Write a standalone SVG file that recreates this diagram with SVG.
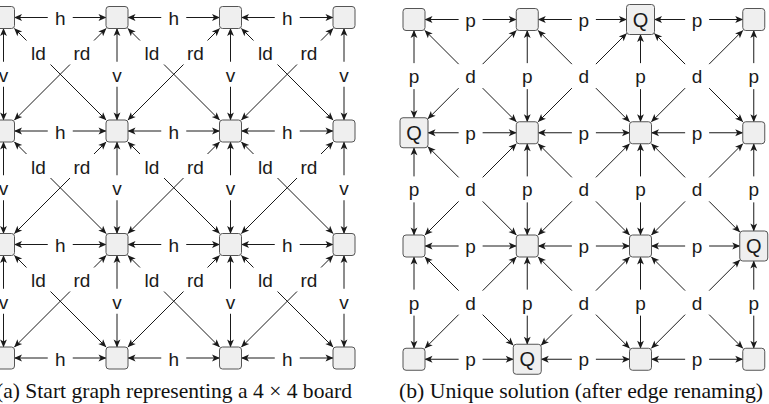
<svg xmlns="http://www.w3.org/2000/svg" width="769" height="404" viewBox="0 0 769 404">
<style>
.e{stroke:#1a1a1a;stroke-width:1;fill:none;marker-end:url(#ah)}
.n{fill:#efefef;stroke:#555;stroke-width:1}
.l{font-family:"Liberation Sans",Arial,sans-serif;font-size:19px;text-anchor:middle;fill:#1a1a1a}
.q{font-family:"Liberation Sans",Arial,sans-serif;font-size:20px;text-anchor:middle;fill:#1a1a1a}
.cap{font-family:"Liberation Serif","Times New Roman",serif;font-size:21.5px;fill:#111}
</style>
<defs>
<marker id="ah" viewBox="-8 -4 9 8" refX="0" refY="0" markerWidth="9" markerHeight="8" markerUnits="userSpaceOnUse" orient="auto"><path d="M0.5,0 L-7.5,-3.4 L-5.5,0 L-7.5,3.4 Z" fill="#1a1a1a"/></marker>
</defs>
<rect width="769" height="404" fill="#fff"/>
<g id="connectors-a">
<g transform="translate(3.5,17.5)"><line class="e" x1="44.25" y1="0" x2="11" y2="0"/><line class="e" x1="69.25" y1="0" x2="102.5" y2="0"/><text class="l" x="56.75" y="7.5">h</text></g>
<g transform="translate(117,17.5)"><line class="e" x1="44.25" y1="0" x2="11" y2="0"/><line class="e" x1="69.25" y1="0" x2="102.5" y2="0"/><text class="l" x="56.75" y="7.5">h</text></g>
<g transform="translate(230.5,17.5)"><line class="e" x1="44.25" y1="0" x2="11" y2="0"/><line class="e" x1="69.25" y1="0" x2="102.5" y2="0"/><text class="l" x="56.75" y="7.5">h</text></g>
<g transform="translate(3.5,131)"><line class="e" x1="44.25" y1="0" x2="11" y2="0"/><line class="e" x1="69.25" y1="0" x2="102.5" y2="0"/><text class="l" x="56.75" y="7.5">h</text></g>
<g transform="translate(117,131)"><line class="e" x1="44.25" y1="0" x2="11" y2="0"/><line class="e" x1="69.25" y1="0" x2="102.5" y2="0"/><text class="l" x="56.75" y="7.5">h</text></g>
<g transform="translate(230.5,131)"><line class="e" x1="44.25" y1="0" x2="11" y2="0"/><line class="e" x1="69.25" y1="0" x2="102.5" y2="0"/><text class="l" x="56.75" y="7.5">h</text></g>
<g transform="translate(3.5,244.5)"><line class="e" x1="44.25" y1="0" x2="11" y2="0"/><line class="e" x1="69.25" y1="0" x2="102.5" y2="0"/><text class="l" x="56.75" y="7.5">h</text></g>
<g transform="translate(117,244.5)"><line class="e" x1="44.25" y1="0" x2="11" y2="0"/><line class="e" x1="69.25" y1="0" x2="102.5" y2="0"/><text class="l" x="56.75" y="7.5">h</text></g>
<g transform="translate(230.5,244.5)"><line class="e" x1="44.25" y1="0" x2="11" y2="0"/><line class="e" x1="69.25" y1="0" x2="102.5" y2="0"/><text class="l" x="56.75" y="7.5">h</text></g>
<g transform="translate(3.5,358)"><line class="e" x1="44.25" y1="0" x2="11" y2="0"/><line class="e" x1="69.25" y1="0" x2="102.5" y2="0"/><text class="l" x="56.75" y="7.5">h</text></g>
<g transform="translate(117,358)"><line class="e" x1="44.25" y1="0" x2="11" y2="0"/><line class="e" x1="69.25" y1="0" x2="102.5" y2="0"/><text class="l" x="56.75" y="7.5">h</text></g>
<g transform="translate(230.5,358)"><line class="e" x1="44.25" y1="0" x2="11" y2="0"/><line class="e" x1="69.25" y1="0" x2="102.5" y2="0"/><text class="l" x="56.75" y="7.5">h</text></g>

<g transform="translate(3.5,17.5)"><line class="e" x1="0" y1="44.25" x2="0" y2="11"/><line class="e" x1="0" y1="69.25" x2="0" y2="102.5"/><text class="l" x="0" y="64.25">v</text></g>
<g transform="translate(3.5,131)"><line class="e" x1="0" y1="44.25" x2="0" y2="11"/><line class="e" x1="0" y1="69.25" x2="0" y2="102.5"/><text class="l" x="0" y="64.25">v</text></g>
<g transform="translate(3.5,244.5)"><line class="e" x1="0" y1="44.25" x2="0" y2="11"/><line class="e" x1="0" y1="69.25" x2="0" y2="102.5"/><text class="l" x="0" y="64.25">v</text></g>
<g transform="translate(117,17.5)"><line class="e" x1="0" y1="44.25" x2="0" y2="11"/><line class="e" x1="0" y1="69.25" x2="0" y2="102.5"/><text class="l" x="0" y="64.25">v</text></g>
<g transform="translate(117,131)"><line class="e" x1="0" y1="44.25" x2="0" y2="11"/><line class="e" x1="0" y1="69.25" x2="0" y2="102.5"/><text class="l" x="0" y="64.25">v</text></g>
<g transform="translate(117,244.5)"><line class="e" x1="0" y1="44.25" x2="0" y2="11"/><line class="e" x1="0" y1="69.25" x2="0" y2="102.5"/><text class="l" x="0" y="64.25">v</text></g>
<g transform="translate(230.5,17.5)"><line class="e" x1="0" y1="44.25" x2="0" y2="11"/><line class="e" x1="0" y1="69.25" x2="0" y2="102.5"/><text class="l" x="0" y="64.25">v</text></g>
<g transform="translate(230.5,131)"><line class="e" x1="0" y1="44.25" x2="0" y2="11"/><line class="e" x1="0" y1="69.25" x2="0" y2="102.5"/><text class="l" x="0" y="64.25">v</text></g>
<g transform="translate(230.5,244.5)"><line class="e" x1="0" y1="44.25" x2="0" y2="11"/><line class="e" x1="0" y1="69.25" x2="0" y2="102.5"/><text class="l" x="0" y="64.25">v</text></g>
<g transform="translate(344,17.5)"><line class="e" x1="0" y1="44.25" x2="0" y2="11"/><line class="e" x1="0" y1="69.25" x2="0" y2="102.5"/><text class="l" x="0" y="64.25">v</text></g>
<g transform="translate(344,131)"><line class="e" x1="0" y1="44.25" x2="0" y2="11"/><line class="e" x1="0" y1="69.25" x2="0" y2="102.5"/><text class="l" x="0" y="64.25">v</text></g>
<g transform="translate(344,244.5)"><line class="e" x1="0" y1="44.25" x2="0" y2="11"/><line class="e" x1="0" y1="69.25" x2="0" y2="102.5"/><text class="l" x="0" y="64.25">v</text></g>

<g transform="translate(3.5,17.5)"><line class="e" x1="23" y1="23" x2="11" y2="11"/><line class="e" x1="47" y1="47" x2="102.5" y2="102.5"/><text class="l" x="35" y="42.5">ld</text><line class="e" x1="90.5" y1="23" x2="102.5" y2="11"/><line class="e" x1="66.5" y1="47" x2="11" y2="102.5"/><text class="l" x="78.5" y="42.5">rd</text></g>
<g transform="translate(117,17.5)"><line class="e" x1="23" y1="23" x2="11" y2="11"/><line class="e" x1="47" y1="47" x2="102.5" y2="102.5"/><text class="l" x="35" y="42.5">ld</text><line class="e" x1="90.5" y1="23" x2="102.5" y2="11"/><line class="e" x1="66.5" y1="47" x2="11" y2="102.5"/><text class="l" x="78.5" y="42.5">rd</text></g>
<g transform="translate(230.5,17.5)"><line class="e" x1="23" y1="23" x2="11" y2="11"/><line class="e" x1="47" y1="47" x2="102.5" y2="102.5"/><text class="l" x="35" y="42.5">ld</text><line class="e" x1="90.5" y1="23" x2="102.5" y2="11"/><line class="e" x1="66.5" y1="47" x2="11" y2="102.5"/><text class="l" x="78.5" y="42.5">rd</text></g>
<g transform="translate(3.5,131)"><line class="e" x1="23" y1="23" x2="11" y2="11"/><line class="e" x1="47" y1="47" x2="102.5" y2="102.5"/><text class="l" x="35" y="42.5">ld</text><line class="e" x1="90.5" y1="23" x2="102.5" y2="11"/><line class="e" x1="66.5" y1="47" x2="11" y2="102.5"/><text class="l" x="78.5" y="42.5">rd</text></g>
<g transform="translate(117,131)"><line class="e" x1="23" y1="23" x2="11" y2="11"/><line class="e" x1="47" y1="47" x2="102.5" y2="102.5"/><text class="l" x="35" y="42.5">ld</text><line class="e" x1="90.5" y1="23" x2="102.5" y2="11"/><line class="e" x1="66.5" y1="47" x2="11" y2="102.5"/><text class="l" x="78.5" y="42.5">rd</text></g>
<g transform="translate(230.5,131)"><line class="e" x1="23" y1="23" x2="11" y2="11"/><line class="e" x1="47" y1="47" x2="102.5" y2="102.5"/><text class="l" x="35" y="42.5">ld</text><line class="e" x1="90.5" y1="23" x2="102.5" y2="11"/><line class="e" x1="66.5" y1="47" x2="11" y2="102.5"/><text class="l" x="78.5" y="42.5">rd</text></g>
<g transform="translate(3.5,244.5)"><line class="e" x1="23" y1="23" x2="11" y2="11"/><line class="e" x1="47" y1="47" x2="102.5" y2="102.5"/><text class="l" x="35" y="42.5">ld</text><line class="e" x1="90.5" y1="23" x2="102.5" y2="11"/><line class="e" x1="66.5" y1="47" x2="11" y2="102.5"/><text class="l" x="78.5" y="42.5">rd</text></g>
<g transform="translate(117,244.5)"><line class="e" x1="23" y1="23" x2="11" y2="11"/><line class="e" x1="47" y1="47" x2="102.5" y2="102.5"/><text class="l" x="35" y="42.5">ld</text><line class="e" x1="90.5" y1="23" x2="102.5" y2="11"/><line class="e" x1="66.5" y1="47" x2="11" y2="102.5"/><text class="l" x="78.5" y="42.5">rd</text></g>
<g transform="translate(230.5,244.5)"><line class="e" x1="23" y1="23" x2="11" y2="11"/><line class="e" x1="47" y1="47" x2="102.5" y2="102.5"/><text class="l" x="35" y="42.5">ld</text><line class="e" x1="90.5" y1="23" x2="102.5" y2="11"/><line class="e" x1="66.5" y1="47" x2="11" y2="102.5"/><text class="l" x="78.5" y="42.5">rd</text></g>
</g>

<g id="connectors-b">
<g transform="translate(414,19.5)"><line class="e" x1="44.625" y1="0" x2="11" y2="0"/><line class="e" x1="68.625" y1="0" x2="102.25" y2="0"/><text class="l" x="56.625" y="7">p</text></g>
<g transform="translate(527.25,19.5)"><line class="e" x1="44.625" y1="0" x2="11" y2="0"/><line class="e" x1="68.625" y1="0" x2="99.25" y2="0"/><text class="l" x="56.625" y="7">p</text></g>
<g transform="translate(640.5,19.5)"><line class="e" x1="44.625" y1="0" x2="14" y2="0"/><line class="e" x1="68.625" y1="0" x2="102.25" y2="0"/><text class="l" x="56.625" y="7">p</text></g>
<g transform="translate(414,132.75)"><line class="e" x1="44.625" y1="0" x2="14" y2="0"/><line class="e" x1="68.625" y1="0" x2="102.25" y2="0"/><text class="l" x="56.625" y="7">p</text></g>
<g transform="translate(527.25,132.75)"><line class="e" x1="44.625" y1="0" x2="11" y2="0"/><line class="e" x1="68.625" y1="0" x2="102.25" y2="0"/><text class="l" x="56.625" y="7">p</text></g>
<g transform="translate(640.5,132.75)"><line class="e" x1="44.625" y1="0" x2="11" y2="0"/><line class="e" x1="68.625" y1="0" x2="102.25" y2="0"/><text class="l" x="56.625" y="7">p</text></g>
<g transform="translate(414,246)"><line class="e" x1="44.625" y1="0" x2="11" y2="0"/><line class="e" x1="68.625" y1="0" x2="102.25" y2="0"/><text class="l" x="56.625" y="7">p</text></g>
<g transform="translate(527.25,246)"><line class="e" x1="44.625" y1="0" x2="11" y2="0"/><line class="e" x1="68.625" y1="0" x2="102.25" y2="0"/><text class="l" x="56.625" y="7">p</text></g>
<g transform="translate(640.5,246)"><line class="e" x1="44.625" y1="0" x2="11" y2="0"/><line class="e" x1="68.625" y1="0" x2="99.25" y2="0"/><text class="l" x="56.625" y="7">p</text></g>
<g transform="translate(414,359.25)"><line class="e" x1="44.625" y1="0" x2="11" y2="0"/><line class="e" x1="68.625" y1="0" x2="99.25" y2="0"/><text class="l" x="56.625" y="7">p</text></g>
<g transform="translate(527.25,359.25)"><line class="e" x1="44.625" y1="0" x2="14" y2="0"/><line class="e" x1="68.625" y1="0" x2="102.25" y2="0"/><text class="l" x="56.625" y="7">p</text></g>
<g transform="translate(640.5,359.25)"><line class="e" x1="44.625" y1="0" x2="11" y2="0"/><line class="e" x1="68.625" y1="0" x2="102.25" y2="0"/><text class="l" x="56.625" y="7">p</text></g>

<g transform="translate(414,19.5)"><line class="e" x1="0" y1="43.625" x2="0" y2="11"/><line class="e" x1="0" y1="69.625" x2="0" y2="98.25"/><text class="l" x="0" y="63.625">p</text></g>
<g transform="translate(414,132.75)"><line class="e" x1="0" y1="43.625" x2="0" y2="15"/><line class="e" x1="0" y1="69.625" x2="0" y2="102.25"/><text class="l" x="0" y="63.625">p</text></g>
<g transform="translate(414,246)"><line class="e" x1="0" y1="43.625" x2="0" y2="11"/><line class="e" x1="0" y1="69.625" x2="0" y2="102.25"/><text class="l" x="0" y="63.625">p</text></g>
<g transform="translate(527.25,19.5)"><line class="e" x1="0" y1="43.625" x2="0" y2="11"/><line class="e" x1="0" y1="69.625" x2="0" y2="102.25"/><text class="l" x="0" y="63.625">p</text></g>
<g transform="translate(527.25,132.75)"><line class="e" x1="0" y1="43.625" x2="0" y2="11"/><line class="e" x1="0" y1="69.625" x2="0" y2="102.25"/><text class="l" x="0" y="63.625">p</text></g>
<g transform="translate(527.25,246)"><line class="e" x1="0" y1="43.625" x2="0" y2="11"/><line class="e" x1="0" y1="69.625" x2="0" y2="98.25"/><text class="l" x="0" y="63.625">p</text></g>
<g transform="translate(640.5,19.5)"><line class="e" x1="0" y1="43.625" x2="0" y2="15"/><line class="e" x1="0" y1="69.625" x2="0" y2="102.25"/><text class="l" x="0" y="63.625">p</text></g>
<g transform="translate(640.5,132.75)"><line class="e" x1="0" y1="43.625" x2="0" y2="11"/><line class="e" x1="0" y1="69.625" x2="0" y2="102.25"/><text class="l" x="0" y="63.625">p</text></g>
<g transform="translate(640.5,246)"><line class="e" x1="0" y1="43.625" x2="0" y2="11"/><line class="e" x1="0" y1="69.625" x2="0" y2="102.25"/><text class="l" x="0" y="63.625">p</text></g>
<g transform="translate(753.75,19.5)"><line class="e" x1="0" y1="43.625" x2="0" y2="11"/><line class="e" x1="0" y1="69.625" x2="0" y2="102.25"/><text class="l" x="0" y="63.625">p</text></g>
<g transform="translate(753.75,132.75)"><line class="e" x1="0" y1="43.625" x2="0" y2="11"/><line class="e" x1="0" y1="69.625" x2="0" y2="98.25"/><text class="l" x="0" y="63.625">p</text></g>
<g transform="translate(753.75,246)"><line class="e" x1="0" y1="43.625" x2="0" y2="15"/><line class="e" x1="0" y1="69.625" x2="0" y2="102.25"/><text class="l" x="0" y="63.625">p</text></g>

<g transform="translate(414,19.5)"><line class="e" x1="44.625" y1="44.625" x2="11" y2="11"/><line class="e" x1="68.625" y1="44.625" x2="102.25" y2="11"/><line class="e" x1="44.625" y1="68.625" x2="14" y2="99.25"/><line class="e" x1="68.625" y1="68.625" x2="102.25" y2="102.25"/><text class="l" x="56.625" y="63.625">d</text></g>
<g transform="translate(527.25,19.5)"><line class="e" x1="44.625" y1="44.625" x2="11" y2="11"/><line class="e" x1="68.625" y1="44.625" x2="99.25" y2="14"/><line class="e" x1="44.625" y1="68.625" x2="11" y2="102.25"/><line class="e" x1="68.625" y1="68.625" x2="102.25" y2="102.25"/><text class="l" x="56.625" y="63.625">d</text></g>
<g transform="translate(640.5,19.5)"><line class="e" x1="44.625" y1="44.625" x2="14" y2="14"/><line class="e" x1="68.625" y1="44.625" x2="102.25" y2="11"/><line class="e" x1="44.625" y1="68.625" x2="11" y2="102.25"/><line class="e" x1="68.625" y1="68.625" x2="102.25" y2="102.25"/><text class="l" x="56.625" y="63.625">d</text></g>
<g transform="translate(414,132.75)"><line class="e" x1="44.625" y1="44.625" x2="14" y2="14"/><line class="e" x1="68.625" y1="44.625" x2="102.25" y2="11"/><line class="e" x1="44.625" y1="68.625" x2="11" y2="102.25"/><line class="e" x1="68.625" y1="68.625" x2="102.25" y2="102.25"/><text class="l" x="56.625" y="63.625">d</text></g>
<g transform="translate(527.25,132.75)"><line class="e" x1="44.625" y1="44.625" x2="11" y2="11"/><line class="e" x1="68.625" y1="44.625" x2="102.25" y2="11"/><line class="e" x1="44.625" y1="68.625" x2="11" y2="102.25"/><line class="e" x1="68.625" y1="68.625" x2="102.25" y2="102.25"/><text class="l" x="56.625" y="63.625">d</text></g>
<g transform="translate(640.5,132.75)"><line class="e" x1="44.625" y1="44.625" x2="11" y2="11"/><line class="e" x1="68.625" y1="44.625" x2="102.25" y2="11"/><line class="e" x1="44.625" y1="68.625" x2="11" y2="102.25"/><line class="e" x1="68.625" y1="68.625" x2="99.25" y2="99.25"/><text class="l" x="56.625" y="63.625">d</text></g>
<g transform="translate(414,246)"><line class="e" x1="44.625" y1="44.625" x2="11" y2="11"/><line class="e" x1="68.625" y1="44.625" x2="102.25" y2="11"/><line class="e" x1="44.625" y1="68.625" x2="11" y2="102.25"/><line class="e" x1="68.625" y1="68.625" x2="99.25" y2="99.25"/><text class="l" x="56.625" y="63.625">d</text></g>
<g transform="translate(527.25,246)"><line class="e" x1="44.625" y1="44.625" x2="11" y2="11"/><line class="e" x1="68.625" y1="44.625" x2="102.25" y2="11"/><line class="e" x1="44.625" y1="68.625" x2="14" y2="99.25"/><line class="e" x1="68.625" y1="68.625" x2="102.25" y2="102.25"/><text class="l" x="56.625" y="63.625">d</text></g>
<g transform="translate(640.5,246)"><line class="e" x1="44.625" y1="44.625" x2="11" y2="11"/><line class="e" x1="68.625" y1="44.625" x2="99.25" y2="14"/><line class="e" x1="44.625" y1="68.625" x2="11" y2="102.25"/><line class="e" x1="68.625" y1="68.625" x2="102.25" y2="102.25"/><text class="l" x="56.625" y="63.625">d</text></g>
</g>

<g id="nodes-a">
<g id="a00"><rect class="n" x="-7.5" y="6.5" width="22" height="22" rx="3"/></g>
<g id="a10"><rect class="n" x="106" y="6.5" width="22" height="22" rx="3"/></g>
<g id="a20"><rect class="n" x="219.5" y="6.5" width="22" height="22" rx="3"/></g>
<g id="a30"><rect class="n" x="333" y="6.5" width="22" height="22" rx="3"/></g>
<g id="a01"><rect class="n" x="-7.5" y="120" width="22" height="22" rx="3"/></g>
<g id="a11"><rect class="n" x="106" y="120" width="22" height="22" rx="3"/></g>
<g id="a21"><rect class="n" x="219.5" y="120" width="22" height="22" rx="3"/></g>
<g id="a31"><rect class="n" x="333" y="120" width="22" height="22" rx="3"/></g>
<g id="a02"><rect class="n" x="-7.5" y="233.5" width="22" height="22" rx="3"/></g>
<g id="a12"><rect class="n" x="106" y="233.5" width="22" height="22" rx="3"/></g>
<g id="a22"><rect class="n" x="219.5" y="233.5" width="22" height="22" rx="3"/></g>
<g id="a32"><rect class="n" x="333" y="233.5" width="22" height="22" rx="3"/></g>
<g id="a03"><rect class="n" x="-7.5" y="347" width="22" height="22" rx="3"/></g>
<g id="a13"><rect class="n" x="106" y="347" width="22" height="22" rx="3"/></g>
<g id="a23"><rect class="n" x="219.5" y="347" width="22" height="22" rx="3"/></g>
<g id="a33"><rect class="n" x="333" y="347" width="22" height="22" rx="3"/></g>
</g>

<g id="nodes-b">
<g id="b00"><rect class="n" x="403" y="8.5" width="22" height="22" rx="3"/></g>
<g id="b10"><rect class="n" x="516.25" y="8.5" width="22" height="22" rx="3"/></g>
<g id="b20"><rect class="n" x="626.5" y="4.5" width="28" height="30" rx="3"/><text class="q" x="640.5" y="26.5">Q</text></g>
<g id="b30"><rect class="n" x="742.75" y="8.5" width="22" height="22" rx="3"/></g>
<g id="b01"><rect class="n" x="400" y="117.75" width="28" height="30" rx="3"/><text class="q" x="414" y="139.75">Q</text></g>
<g id="b11"><rect class="n" x="516.25" y="121.75" width="22" height="22" rx="3"/></g>
<g id="b21"><rect class="n" x="629.5" y="121.75" width="22" height="22" rx="3"/></g>
<g id="b31"><rect class="n" x="742.75" y="121.75" width="22" height="22" rx="3"/></g>
<g id="b02"><rect class="n" x="403" y="235" width="22" height="22" rx="3"/></g>
<g id="b12"><rect class="n" x="516.25" y="235" width="22" height="22" rx="3"/></g>
<g id="b22"><rect class="n" x="629.5" y="235" width="22" height="22" rx="3"/></g>
<g id="b32"><rect class="n" x="739.75" y="231" width="28" height="30" rx="3"/><text class="q" x="753.75" y="253">Q</text></g>
<g id="b03"><rect class="n" x="403" y="348.25" width="22" height="22" rx="3"/></g>
<g id="b13"><rect class="n" x="513.25" y="344.25" width="28" height="30" rx="3"/><text class="q" x="527.25" y="366.25">Q</text></g>
<g id="b23"><rect class="n" x="629.5" y="348.25" width="22" height="22" rx="3"/></g>
<g id="b33"><rect class="n" x="742.75" y="348.25" width="22" height="22" rx="3"/></g>
</g>

<g id="captions">
<text class="cap" x="-4" y="398" textLength="356" lengthAdjust="spacingAndGlyphs">(a) Start graph representing a 4 × 4 board</text>
<text class="cap" x="399" y="398" textLength="364" lengthAdjust="spacingAndGlyphs">(b) Unique solution (after edge renaming)</text>
</g>
</svg>
